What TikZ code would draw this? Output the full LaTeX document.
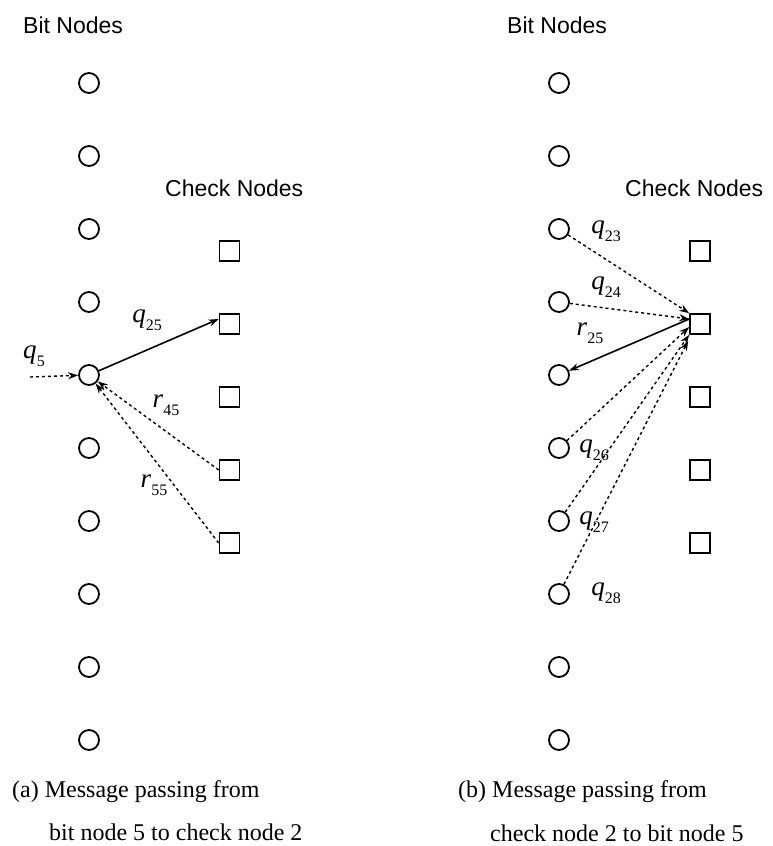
\documentclass[tikz,border=0pt]{standalone}
\usepackage{fontspec}
\setmainfont{Liberation Serif}
\newfontfamily\arialf{Liberation Sans}
\usetikzlibrary{arrows.meta}
\newcommand\msgl[2]{\textit{#1}\raisebox{-0.3em}{\fontsize{16}{16}\selectfont #2}}
\begin{document}
\begin{tikzpicture}[x=1pt,y=-1pt,
  bit/.style={circle,draw,line width=1.8pt,minimum size=20pt,inner sep=0pt},
  chk/.style={rectangle,draw,line width=1.6pt,minimum size=20pt,inner sep=0pt},
  tip/.style={-{Stealth[length=10pt,width=7pt]}},
  msgline/.style={tip,line width=1.4pt,dash pattern=on 3pt off 3pt},
  solidmsg/.style={tip,line width=1.6pt},
  lbl/.style={font=\fontsize{27}{27}\selectfont,inner sep=0pt},
  head/.style={font=\arialf\fontsize{23}{27}\selectfont,anchor=base west,inner sep=0pt},
  captxt/.style={font=\fontsize{24}{28}\selectfont,anchor=base west,inner sep=0pt}]
\useasboundingbox (0,0) rectangle (772,846);
% headings
\node[head] (ha) at (23,33) {Bit Nodes};
\node[head] (hca) at (165,196) {Check Nodes};
\node[head] (hb) at (507,33) {Bit Nodes};
\node[head] (hcb) at (625,196) {Check Nodes};
% bit nodes
\foreach \i in {1,...,10}{
  \node[bit] (a\i) at (89,{83+73*(\i-1)}) {};
  \node[bit] (b\i) at (559,{83+73*(\i-1)}) {};
}
% check nodes
\foreach \j in {1,...,5}{
  \node[chk] (ac\j) at (229.5,{251+73*(\j-1)}) {};
  \node[chk] (bc\j) at (700,{251+73*(\j-1)}) {};
}
% panel (a)
\coordinate (q5s) at (30,377);
\draw[msgline] (q5s) -- (a5);
\draw[solidmsg] (a5) -- ([yshift=5pt]ac2.west);
\draw[msgline] (ac4.west) -- (a5);
\draw[msgline] (ac5.west) -- (a5);
\node[lbl] (lq5) at (34,356) {\msgl{q}{5}};
\node[lbl] (lq25) at (147,320) {\msgl{q}{25}};
\node[lbl] (lr45) at (166,405) {\msgl{r}{45}};
\node[lbl] (lr55) at (154,485) {\msgl{r}{55}};
% panel (b)
\draw[msgline] (b3) -- (bc2.north west);
\draw[msgline] (b4) -- ([yshift=5pt]bc2.west);
\draw[solidmsg] ([yshift=5pt]bc2.west) -- (b5);
\draw[msgline] (b6) -- ([yshift=-3pt]bc2.west);
\draw[msgline] (b7) -- (bc2.south west);
\draw[msgline] (b8) -- ([xshift=-1pt,yshift=-6pt]bc2.south west);
\node[lbl] (lq23) at (606,231) {\msgl{q}{23}};
\node[lbl] (lq24) at (606,287) {\msgl{q}{24}};
\node[lbl] (lr25) at (590,333) {\msgl{r}{25}};
\node[lbl] (lq26) at (594,450) {\msgl{q}{26}};
\node[lbl] (lq27) at (594,522) {\msgl{q}{27}};
\node[lbl] (lq28) at (606,593) {\msgl{q}{28}};
% captions
\node[captxt] (ca1) at (12,797) {(a) Message passing from};
\node[captxt] (ca2) at (49,840) {bit node 5 to check node 2};
\node[captxt] (cb1) at (458,797) {(b) Message passing from};
\node[captxt] (cb2) at (490,841) {check node 2 to bit node 5};
\end{tikzpicture}
\end{document}
